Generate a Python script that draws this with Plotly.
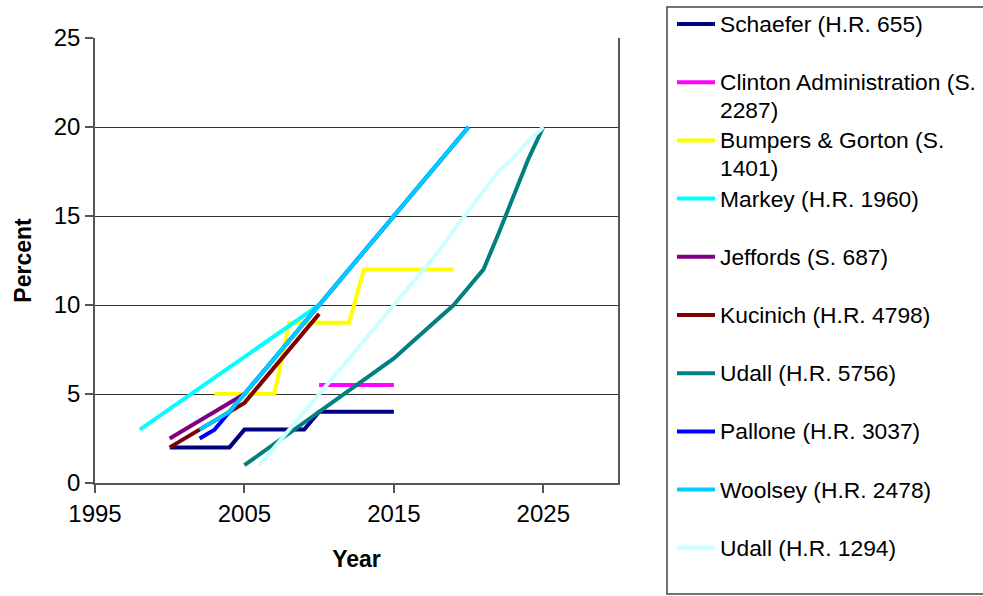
import plotly.graph_objects as go

# Renewable portfolio standard proposals: required share (percent) by year
schaefer_years = list(range(2000, 2016))
schaefer_pct = [2, 2, 2, 2, 2, 3, 3, 3, 3, 3, 4, 4, 4, 4, 4, 4]

clinton_years = list(range(2010, 2016))
clinton_pct = [5.5, 5.5, 5.5, 5.5, 5.5, 5.5]

bumpers_years = list(range(2003, 2020))
bumpers_pct = [5, 5, 5, 5, 5, 9, 9, 9, 9, 9, 12, 12, 12, 12, 12, 12, 12]

markey_years = [1998, 2010, 2020]
markey_pct = [3, 10, 20]

jeffords_years = list(range(2000, 2006))
jeffords_pct = [2.5, 3, 3.5, 4, 4.5, 5]

kucinich_years = list(range(2000, 2011))
kucinich_pct = [2, 2.5, 3, 3.5, 4, 4.5, 5.5, 6.5, 7.5, 8.5, 9.5]

udall5756_years = list(range(2005, 2026))
udall5756_pct = [1, 1.6, 2.2, 2.8, 3.4, 4, 4.6, 5.2, 5.8, 6.4, 7,
                 7.75, 8.5, 9.25, 10, 11, 12, 14, 16.1, 18.2, 20]

pallone_years = list(range(2002, 2021))
pallone_pct = [2.5, 3, 4, 5, 6, 7, 8, 9, 10, 11, 12, 13, 14, 15, 16, 17, 18, 19, 20]

woolsey_years = list(range(2002, 2021))
woolsey_pct = [3, 3.5, 4, 5, 6, 7, 8, 9, 10, 11, 12, 13, 14, 15, 16, 17, 18, 19, 20]

udall1294_years = list(range(2006, 2026))
udall1294_pct = [1, 2, 3, 4, 5, 6, 7, 8, 9, 10, 11, 12, 13,
                 14.2, 15.3, 16.4, 17.5, 18.3, 19.2, 20]

series_names = [
    "Schaefer (H.R. 655)",
    "Clinton Administration (S.<br>2287)",
    "Bumpers & Gorton (S.<br>1401)",
    "Markey (H.R. 1960)",
    "Jeffords (S. 687)",
    "Kucinich (H.R. 4798)",
    "Udall (H.R. 5756)",
    "Pallone (H.R. 3037)",
    "Woolsey (H.R. 2478)",
    "Udall (H.R. 1294)",
]
series_years = [schaefer_years, clinton_years, bumpers_years, markey_years,
                jeffords_years, kucinich_years, udall5756_years, pallone_years,
                woolsey_years, udall1294_years]
series_pct = [schaefer_pct, clinton_pct, bumpers_pct, markey_pct,
              jeffords_pct, kucinich_pct, udall5756_pct, pallone_pct,
              woolsey_pct, udall1294_pct]
series_colors = ["#000080", "#FF00FF", "#FFFF00", "#00FFFF", "#800080",
                 "#800000", "#008080", "#0000FF", "#00CCFF", "#CCFFFF"]

x_ticks = [1995, 2005, 2015, 2025]
y_ticks = [0, 5, 10, 15, 20, 25]

FONT = "Liberation Sans, Arial, sans-serif"
W, H = 983, 596
M_L, M_R, M_T, M_B = 95, 365, 38, 113
PW, PH = W - M_L - M_R, H - M_T - M_B


def px_x(px):
    return (px - M_L) / PW


def px_y(py):
    return (H - M_B - py) / PH


fig = go.Figure()
for name, xs, ys, col in zip(series_names, series_years, series_pct, series_colors):
    fig.add_trace(go.Scatter(
        x=xs, y=ys, mode="lines", name=name.replace("<br>", " "),
        line=dict(color=col, width=4), showlegend=False,
        hoverinfo="x+y+name",
    ))

# Boxed key on the right, one fixed-height row per series
shapes = [dict(type="rect", xref="paper", yref="paper",
               x0=px_x(667), x1=px_x(1000), y0=px_y(7), y1=px_y(594),
               line=dict(color="#444444", width=1.5), fillcolor="rgba(0,0,0,0)")]
annotations = []
row0, row_step, line_step = 24, 58.2, 28
for i, (name, col) in enumerate(zip(series_names, series_colors)):
    yc = row0 + i * row_step
    shapes.append(dict(type="line", xref="paper", yref="paper",
                       x0=px_x(677), x1=px_x(715), y0=px_y(yc), y1=px_y(yc),
                       line=dict(color=col, width=4)))
    for j, part in enumerate(name.split("<br>")):
        annotations.append(dict(
            xref="paper", yref="paper", x=px_x(718), y=px_y(yc + j * line_step),
            xanchor="left", yanchor="middle", showarrow=False, text=part,
            font=dict(family=FONT, size=22.8, color="black"),
        ))

fig.update_layout(
    width=W, height=H,
    margin=dict(l=M_L, r=M_R, t=M_T, b=M_B, autoexpand=False),
    paper_bgcolor="white", plot_bgcolor="white",
    font=dict(family=FONT, size=24, color="black"),
    shapes=shapes, annotations=annotations,
    xaxis=dict(
        range=[1995, 2030], tickvals=x_ticks, ticktext=[str(v) for v in x_ticks],
        showgrid=False, zeroline=False,
        showline=True, linecolor="#555555", linewidth=1.5,
        ticks="outside", ticklen=8, tickcolor="#555555", tickwidth=1.5,
        tickfont=dict(family=FONT, size=24, color="black"),
        title=dict(text="<b>Year</b>", standoff=25,
                   font=dict(family=FONT, size=23, color="black")),
    ),
    yaxis=dict(
        range=[0, 25], tickvals=y_ticks,
        showgrid=True, gridcolor="#333333", gridwidth=1,
        zeroline=False,
        showline=True, linecolor="#555555", linewidth=1.5, mirror=True,
        ticks="outside", ticklen=8, tickcolor="#555555", tickwidth=1.5,
        tickfont=dict(family=FONT, size=24, color="black"),
        title=dict(text="<b>Percent</b>", standoff=16,
                   font=dict(family=FONT, size=23, color="black")),
    ),
)

fig.write_html("out.html")
